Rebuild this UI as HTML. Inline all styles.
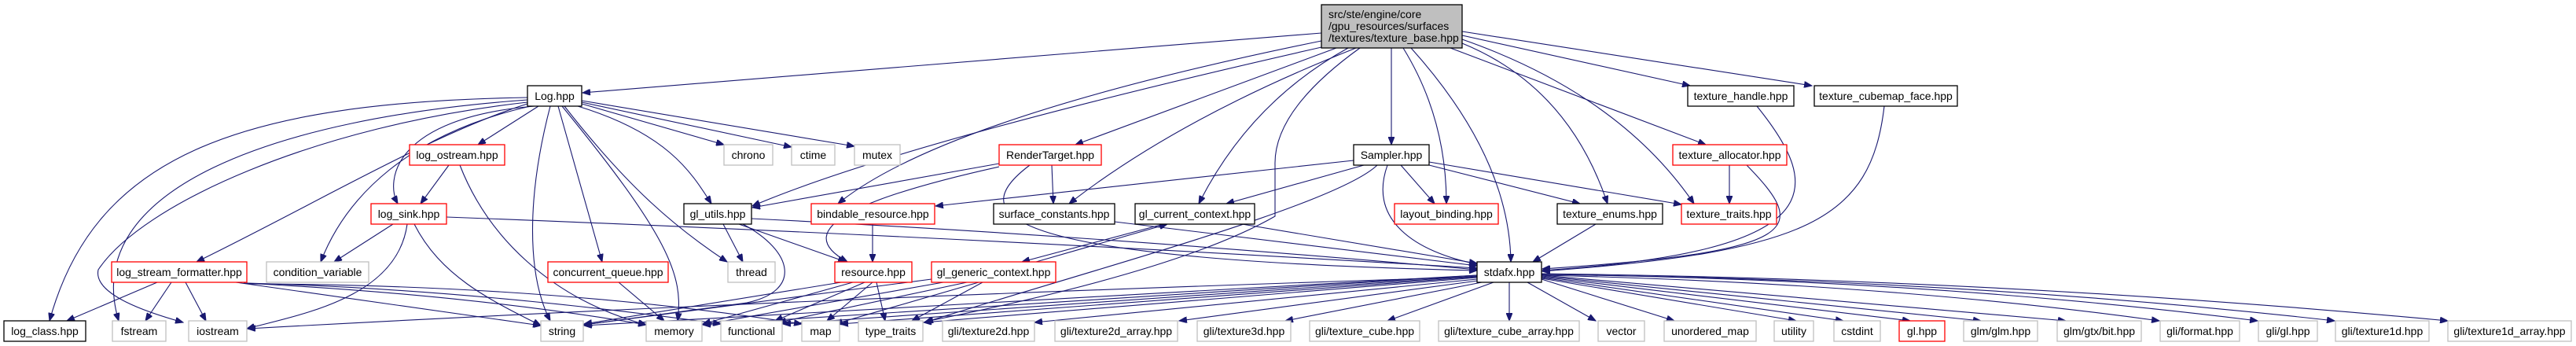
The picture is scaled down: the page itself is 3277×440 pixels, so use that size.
<!DOCTYPE html>
<html><head><meta charset="utf-8"><style>
html,body{margin:0;padding:0;background:#fff;}
svg{display:block;}
text{font-family:"Liberation Sans",Arial,sans-serif;font-size:14px;fill:#000;}
.e{fill:none;stroke:#191970;stroke-width:1.1;}
.b{fill:#fff;stroke:#000;stroke-width:1.3;}
.r{fill:#fff;stroke:#ff0000;stroke-width:1.3;}
.g{fill:#fff;stroke:#bfbfbf;stroke-width:1.3;}
</style></head><body>
<svg width="3277" height="440" viewBox="0 0 3277 440" xmlns="http://www.w3.org/2000/svg">
<defs>
<marker id="a" markerWidth="11" markerHeight="8" refX="10" refY="4" orient="auto" markerUnits="userSpaceOnUse">
<path d="M0,0 L10,4 L0,8 Z" fill="#191970" stroke="#191970"/>
</marker>
</defs>
<g class="e" marker-end="url(#a)">
<path d="M1681,42 L741,118"/>
<path d="M1690,58 Q1150,180 957,262"/>
<path d="M1681,52 Q1200,150 1066,259"/>
<path d="M1700,61 L1368,184"/>
<path d="M1725,61 Q1500,150 1360,259"/>
<path d="M1715,61 Q1590,130 1525,259"/>
<path d="M1730,61 Q1620,140 1622,210 L1622,275 Q1500,345 1177,409"/>
<path d="M1770,61 L1770,184"/>
<path d="M1785,61 Q1840,150 1840,259"/>
<path d="M1795,61 Q1920,200 1922,333"/>
<path d="M1860,55 Q1995,110 2045,259"/>
<path d="M1860,50 Q2060,120 2155,259"/>
<path d="M1845,61 L2170,184"/>
<path d="M1860,45 L2150,109"/>
<path d="M1860,40 L2305,109"/>
<path d="M671,124 C300,130 120,200 63,408"/>
<path d="M671,127 C350,150 100,240 151,408"/>
<path d="M671,130 C400,160 180,260 125,343 C118,375 190,398 233,410"/>
<path d="M671,132 C550,170 400,260 250,333"/>
<path d="M675,135 C520,170 440,250 408,333"/>
<path d="M680,135 C500,150 490,230 506,259"/>
<path d="M685,135 L608,184"/>
<path d="M700,135 C670,250 670,350 700,408"/>
<path d="M710,135 L766,333"/>
<path d="M715,135 C850,300 870,350 862,408"/>
<path d="M718,135 C800,240 860,290 925,333"/>
<path d="M735,135 C850,170 880,220 905,259"/>
<path d="M740,132 L921,184"/>
<path d="M740,130 L1007,187"/>
<path d="M740,128 L1087,186"/>
<path d="M571,210 L535,259"/>
<path d="M585,210 C620,300 700,380 822,413"/>
<path d="M500,285 L425,333"/>
<path d="M527,285 C560,350 620,380 688,414"/>
<path d="M518,285 C505,380 380,400 314,418"/>
<path d="M568,276 Q1200,300 1879,341"/>
<path d="M200,359 L85,408"/>
<path d="M218,359 L185,408"/>
<path d="M236,359 L262,408"/>
<path d="M300,359 L688,414"/>
<path d="M310,360 Q600,375 822,413"/>
<path d="M314,360 Q600,368 917,412"/>
<path d="M314,361 Q700,362 1020,412"/>
<path d="M787,359 L845,408"/>
<path d="M920,285 L945,333"/>
<path d="M940,285 L1076,333"/>
<path d="M956,278 Q1400,300 1879,343"/>
<path d="M945,285 C1010,320 1020,370 950,385 L743,413"/>
<path d="M1271,208 L957,264"/>
<path d="M1338,210 L1340,259"/>
<path d="M1271,212 C1100,250 1000,290 1078,333"/>
<path d="M1310,210 C1230,270 1250,330 1879,344"/>
<path d="M1110,285 L1110,333"/>
<path d="M1722,204 L1190,262"/>
<path d="M1735,210 L1560,259"/>
<path d="M1782,210 L1825,259"/>
<path d="M1818,210 L2010,259"/>
<path d="M1818,206 L2139,260"/>
<path d="M1765,210 C1740,280 1800,320 1879,336"/>
<path d="M1752,210 C1700,260 1400,340 1176,410"/>
<path d="M1418,282 L1879,338"/>
<path d="M1480,285 L1300,333"/>
<path d="M1318,333 L1485,285"/>
<path d="M1580,285 L1879,335"/>
<path d="M1185,355 L743,413"/>
<path d="M1200,359 L894,413"/>
<path d="M1230,359 L990,410"/>
<path d="M1245,359 L1062,412"/>
<path d="M1250,359 L1160,408"/>
<path d="M1070,359 L743,412"/>
<path d="M1085,359 L894,412"/>
<path d="M1100,359 L986,408"/>
<path d="M1110,359 L1052,408"/>
<path d="M1115,359 L1126,408"/>
<path d="M2030,285 L1950,333"/>
<path d="M2200,210 L2200,259"/>
<path d="M2222,210 C2300,290 2300,320 1962,342"/>
<path d="M2235,135 C2320,240 2330,320 1962,344"/>
<path d="M2397,135 C2380,280 2300,320 1962,345"/>
<path d="M1879,352 Q1000,380 315,418"/>
<path d="M1879,350 L743,414"/>
<path d="M1879,350 L894,413"/>
<path d="M1879,351 L996,412"/>
<path d="M1879,352 L1069,412"/>
<path d="M1879,353 L1175,410"/>
<path d="M1879,355 L1316,410"/>
<path d="M1880,357 L1500,408"/>
<path d="M1885,359 L1635,408"/>
<path d="M1900,359 L1765,408"/>
<path d="M1920,359 L1920,408"/>
<path d="M1943,359 L2030,408"/>
<path d="M1961,355 L2130,408"/>
<path d="M1961,354 L2285,408"/>
<path d="M1961,353 L2345,408"/>
<path d="M1961,352 L2430,408"/>
<path d="M1961,351 L2520,408"/>
<path d="M1961,350 L2628,408"/>
<path d="M1961,350 Q2400,360 2747,408"/>
<path d="M1961,349 Q2450,355 2872,408"/>
<path d="M1961,349 Q2500,355 2970,408"/>
<path d="M1961,348 Q2550,355 3114,408"/>
</g>
<rect x="1681" y="6" width="179" height="55" fill="#bfbfbf" stroke="#000" stroke-width="1.3"/>
<text x="1690" y="23">src/ste/engine/core</text>
<text x="1690" y="38">/gpu_resources/surfaces</text>
<text x="1690" y="53">/textures/texture_base.hpp</text>
<g text-anchor="middle">
<rect class="b" x="671" y="109" width="69" height="26"/><text x="705.5" y="127">Log.hpp</text>
<rect class="b" x="2147" y="109" width="135" height="26"/><text x="2214.5" y="127">texture_handle.hpp</text>
<rect class="b" x="2308" y="109" width="182" height="26"/><text x="2399" y="127">texture_cubemap_face.hpp</text>
<rect class="r" x="521" y="184" width="121" height="26"/><text x="581.5" y="202">log_ostream.hpp</text>
<rect class="g" x="921" y="184" width="62" height="26"/><text x="952" y="202">chrono</text>
<rect class="g" x="1007" y="184" width="55" height="26"/><text x="1034.5" y="202">ctime</text>
<rect class="g" x="1087" y="184" width="58" height="26"/><text x="1116" y="202">mutex</text>
<rect class="r" x="1271" y="184" width="130" height="26"/><text x="1336" y="202">RenderTarget.hpp</text>
<rect class="b" x="1722" y="184" width="96" height="26"/><text x="1770" y="202">Sampler.hpp</text>
<rect class="r" x="2128" y="184" width="145" height="26"/><text x="2200.5" y="202">texture_allocator.hpp</text>
<rect class="r" x="472" y="259" width="96" height="26"/><text x="520" y="277">log_sink.hpp</text>
<rect class="b" x="870" y="259" width="86" height="26"/><text x="913" y="277">gl_utils.hpp</text>
<rect class="r" x="1032" y="259" width="157" height="26"/><text x="1110.5" y="277">bindable_resource.hpp</text>
<rect class="b" x="1264" y="259" width="154" height="26"/><text x="1341" y="277">surface_constants.hpp</text>
<rect class="b" x="1444" y="259" width="152" height="26"/><text x="1520" y="277">gl_current_context.hpp</text>
<rect class="r" x="1774" y="259" width="132" height="26"/><text x="1840" y="277">layout_binding.hpp</text>
<rect class="b" x="1981" y="259" width="134" height="26"/><text x="2048" y="277">texture_enums.hpp</text>
<rect class="r" x="2139" y="259" width="121" height="26"/><text x="2199.5" y="277">texture_traits.hpp</text>
<rect class="r" x="142" y="333" width="172" height="26"/><text x="228" y="351">log_stream_formatter.hpp</text>
<rect class="g" x="339" y="333" width="130" height="26"/><text x="404" y="351">condition_variable</text>
<rect class="r" x="697" y="333" width="153" height="26"/><text x="773.5" y="351">concurrent_queue.hpp</text>
<rect class="g" x="926" y="333" width="60" height="26"/><text x="956" y="351">thread</text>
<rect class="r" x="1062" y="333" width="98" height="26"/><text x="1111" y="351">resource.hpp</text>
<rect class="r" x="1185" y="333" width="158" height="26"/><text x="1264" y="351">gl_generic_context.hpp</text>
<rect class="b" x="1879" y="333" width="82" height="26"/><text x="1920" y="351">stdafx.hpp</text>
<rect class="b" x="5" y="408" width="104" height="26"/><text x="57" y="426">log_class.hpp</text>
<rect class="g" x="143" y="408" width="68" height="26"/><text x="177" y="426">fstream</text>
<rect class="g" x="240" y="408" width="74" height="26"/><text x="277" y="426">iostream</text>
<rect class="g" x="688" y="408" width="54" height="26"/><text x="715" y="426">string</text>
<rect class="g" x="822" y="408" width="71" height="26"/><text x="857.5" y="426">memory</text>
<rect class="g" x="917" y="408" width="78" height="26"/><text x="956" y="426">functional</text>
<rect class="g" x="1020" y="408" width="48" height="26"/><text x="1044" y="426">map</text>
<rect class="g" x="1092" y="408" width="82" height="26"/><text x="1133" y="426">type_traits</text>
<rect class="g" x="1199" y="408" width="117" height="26"/><text x="1257.5" y="426">gli/texture2d.hpp</text>
<rect class="g" x="1342" y="408" width="156" height="26"/><text x="1420" y="426">gli/texture2d_array.hpp</text>
<rect class="g" x="1523" y="408" width="119" height="26"/><text x="1582.5" y="426">gli/texture3d.hpp</text>
<rect class="g" x="1666" y="408" width="140" height="26"/><text x="1736" y="426">gli/texture_cube.hpp</text>
<rect class="g" x="1830" y="408" width="179" height="26"/><text x="1919.5" y="426">gli/texture_cube_array.hpp</text>
<rect class="g" x="2033" y="408" width="59" height="26"/><text x="2062.5" y="426">vector</text>
<rect class="g" x="2117" y="408" width="117" height="26"/><text x="2175.5" y="426">unordered_map</text>
<rect class="g" x="2257" y="408" width="50" height="26"/><text x="2282" y="426">utility</text>
<rect class="g" x="2333" y="408" width="59" height="26"/><text x="2362.5" y="426">cstdint</text>
<rect class="r" x="2416" y="408" width="58" height="26"/><text x="2445" y="426">gl.hpp</text>
<rect class="g" x="2498" y="408" width="94" height="26"/><text x="2545" y="426">glm/glm.hpp</text>
<rect class="g" x="2617" y="408" width="107" height="26"/><text x="2670.5" y="426">glm/gtx/bit.hpp</text>
<rect class="g" x="2748" y="408" width="101" height="26"/><text x="2798.5" y="426">gli/format.hpp</text>
<rect class="g" x="2873" y="408" width="75" height="26"/><text x="2910.5" y="426">gli/gl.hpp</text>
<rect class="g" x="2971" y="408" width="119" height="26"/><text x="3030.5" y="426">gli/texture1d.hpp</text>
<rect class="g" x="3114" y="408" width="157" height="26"/><text x="3192.5" y="426">gli/texture1d_array.hpp</text>
</g>
</svg>
</body></html>
